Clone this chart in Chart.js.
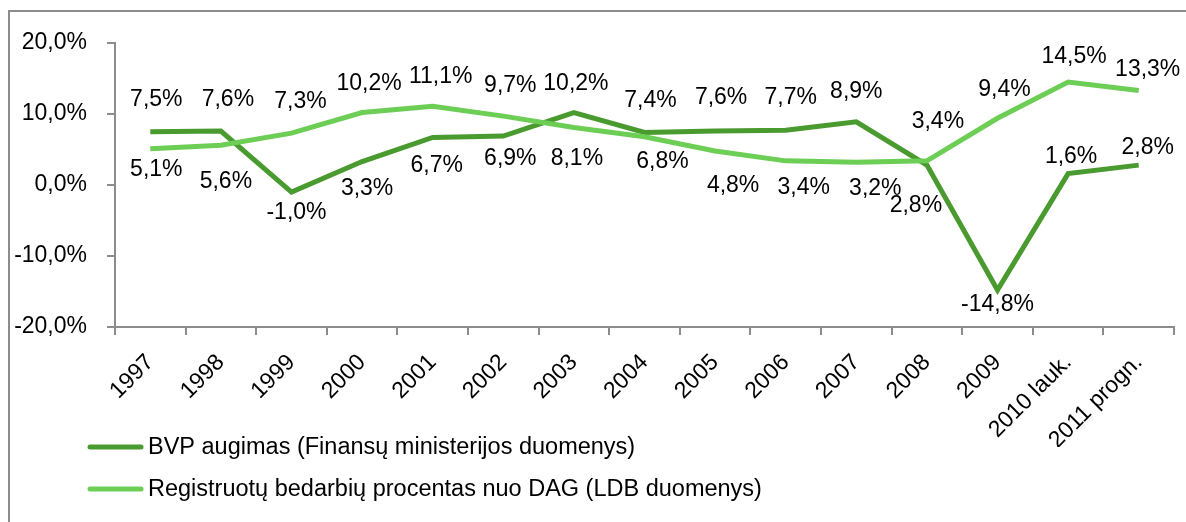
<!DOCTYPE html>
<html>
<head>
<meta charset="utf-8">
<script src="https://cdn.jsdelivr.net/npm/chart.js@4"></script>
<style>
    body { margin: 0; background: #fff; }
    canvas { display: block; }
</style>
</head>
<body>
<canvas id="myChart" width="1186" height="522"></canvas>
<script>
// metai (x asis)
var years = ['1997', '1998', '1999', '2000', '2001', '2002', '2003', '2004', '2005', '2006', '2007', '2008', '2009', '2010 lauk.', '2011 progn.'];
// BVP augimas, %
var bvpValues = [7.5, 7.6, -1.0, 3.3, 6.7, 6.9, 10.2, 7.4, 7.6, 7.7, 8.9, 2.8, -14.8, 1.6, 2.8];
// registruotu bedarbiu procentas, %
var regValues = [5.1, 5.6, 7.3, 10.2, 11.1, 9.7, 8.1, 6.8, 4.8, 3.4, 3.2, 3.4, 9.4, 14.5, 13.3];
var yTicks = [-20, -10, 0, 10, 20];

var bvpLabel = 'BVP augimas (Finansų ministerijos duomenys)';
var regLabel = 'Registruotų bedarbių procentas nuo DAG (LDB duomenys)';

// label nudges in px (like moved by hand in Excel)
var bvpShiftX = [6, 7, 5, 5, 4, 7, 2, 6, 6, 5, 0, -11, 0, 3, 9];
var bvpShiftY = [-32, -31, 21, 27, 28, 23, -29, -32, -33, -33, -30, 41, 15, -17, -17];
var regShiftX = [6, 5, 9, 7, 8, 7, 3, 18, 18, 18, 19, 11, 7, 6, 9];
var regShiftY = [21, 36, -32, -29, -30, -30, 31, 25, 35, 27, 26, -39, -29, -25, -21];

var darkGreen = '#4a9b2f';
var lightGreen = '#6dce56';
var axisGray = '#8c8c8c';
var fontName = '"Liberation Sans", Arial, sans-serif';

function pct(v) {
    return v.toFixed(1).replace('.', ',') + '%';
}

// value labels + legend + frame
var extras = {
    id: 'extras',
    beforeDraw: function(chart) {
        var c = chart.ctx;
        c.save();
        c.strokeStyle = axisGray;
        c.lineWidth = 2;
        c.beginPath();
        c.moveTo(9, 522);
        c.lineTo(9, 11);
        c.lineTo(1186, 11);
        c.stroke();
        c.restore();
    },
    afterDatasetsDraw: function(chart) {
        var c = chart.ctx;
        var shifts = [[bvpShiftX, bvpShiftY], [regShiftX, regShiftY]];
        c.save();
        c.font = '23px ' + fontName;
        c.fillStyle = '#000';
        c.textAlign = 'center';
        c.textBaseline = 'middle';
        chart.data.datasets.forEach(function(ds, d) {
            var meta = chart.getDatasetMeta(d);
            meta.data.forEach(function(pt, i) {
                c.fillText(pct(ds.data[i]), pt.x + shifts[d][0][i], pt.y + shifts[d][1][i]);
            });
        });
        c.restore();
    },
    afterDraw: function(chart) {
        var c = chart.ctx;
        var rows = [[darkGreen, bvpLabel, 447], [lightGreen, regLabel, 489]];
        c.save();
        c.font = '23.5px ' + fontName;
        c.fillStyle = '#000';
        c.textBaseline = 'middle';
        c.lineCap = 'round';
        c.lineWidth = 5;
        rows.forEach(function(r) {
            c.strokeStyle = r[0];
            c.beginPath();
            c.moveTo(90, r[2]);
            c.lineTo(141, r[2]);
            c.stroke();
            c.fillText(r[1], 148, r[2] + 1);
        });
        c.restore();
    }
};

var ctx = document.getElementById('myChart').getContext('2d');
var myChart = new Chart(ctx, {
    type: 'line',
    data: {
        labels: years,
        datasets: [{
            label: bvpLabel,
            data: bvpValues,
            borderColor: darkGreen,
            borderWidth: 5,
            pointRadius: 0,
            tension: 0,
            order: 2
        },
        {
            label: regLabel,
            data: regValues,
            borderColor: lightGreen,
            borderWidth: 5,
            pointRadius: 0,
            tension: 0,
            order: 1
        }]
    },
    options: {
        responsive: false,
        animation: false,
        layout: {
            padding: { top: 43, left: 13, right: 12, bottom: 75 }
        },
        plugins: {
            legend: { display: false },
            tooltip: { enabled: false }
        },
        scales: {
            x: {
                offset: true,
                // fixed axis size, legend is drawn over the free space
                afterFit: function(s) {
                    s.height = 120;
                    s.paddingLeft = 0;
                    s.paddingRight = 0;
                },
                grid: {
                    offset: true,
                    drawOnChartArea: false,
                    color: axisGray,
                    lineWidth: 2,
                    tickLength: 8
                },
                border: { color: axisGray, width: 2 },
                ticks: {
                    autoSkip: false,
                    maxRotation: 45,
                    minRotation: 45,
                    padding: 14,
                    color: '#000',
                    font: { family: fontName, size: 23 }
                }
            },
            y: {
                min: -20,
                max: 20,
                afterBuildTicks: function(scale) {
                    scale.ticks = yTicks.map(function(v) { return { value: v }; });
                },
                afterFit: function(s) {
                    s.width = 102;
                },
                grid: {
                    drawOnChartArea: false,
                    color: axisGray,
                    lineWidth: 2,
                    tickLength: 8
                },
                border: { color: axisGray, width: 2 },
                ticks: {
                    padding: 20,
                    color: '#000',
                    font: { family: fontName, size: 23 },
                    callback: function(v) { return pct(v); }
                }
            }
        }
    },
    plugins: [extras]
});
</script>
</body>
</html>
